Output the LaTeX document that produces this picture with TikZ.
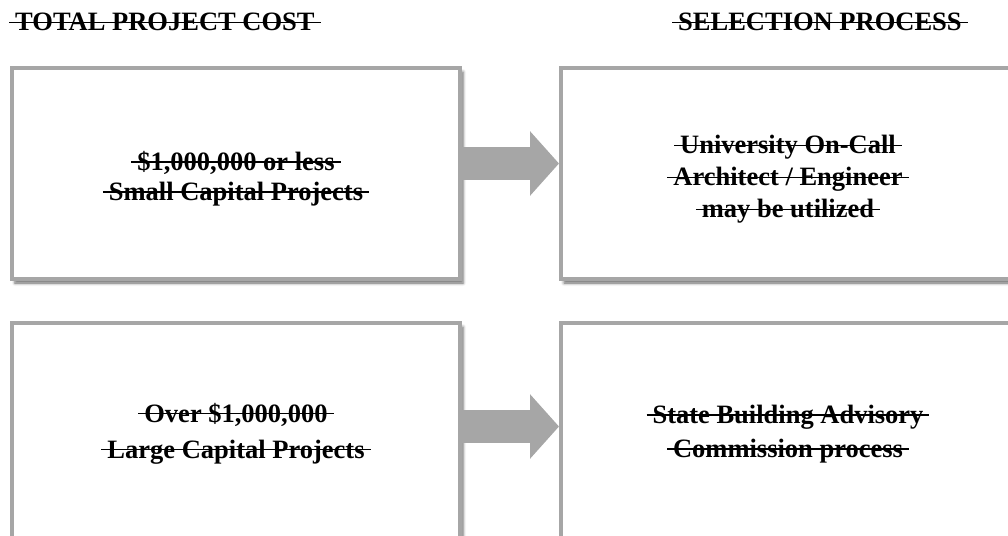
\documentclass[tikz,border=0pt]{standalone}
\usepackage{fontspec}
\setmainfont{Liberation Serif}
\usetikzlibrary{positioning,shadows.blur,arrows.meta}
\definecolor{framegray}{HTML}{A6A6A6}
% struck-through text, the line runs a little past both ends
\newcommand{\strk}[1]{\leavevmode\setbox0=\hbox{#1}\rlap{\kern-6pt\rule[\dimexpr.32em-.75pt\relax]{\dimexpr\wd0+12pt\relax}{1.5pt}}\box0}

\begin{document}
\begin{tikzpicture}[x=1pt,y=-1pt,
    box/.style={rectangle,draw=framegray,line width=4pt,fill=white,
      minimum height=211pt,
      blur shadow={shadow xshift=3pt,shadow yshift=-4pt,shadow blur radius=3pt,shadow opacity=60}},
    boxtext/.style={align=center,font=\bfseries\fontsize{26.5}{30}\selectfont},
    head/.style={inner sep=0pt,anchor=base west,font=\bfseries\fontsize{26.5}{30}\selectfont},
    flow/.style={framegray,line width=33pt,-{Triangle[length=29pt,width=63pt]}}]
      \clip (0,0) rectangle (1008,535);
      % headings
      \node[head] (costhead) at (15,31) {\strk{TOTAL PROJECT COST}};
      \node[head] (selecthead) at (678,31) {\strk{SELECTION PROCESS}};
      % cost boxes
      \node[box,minimum width=448pt,anchor=north west] (small) at (10,66) {};
      \node[box,minimum width=448pt,minimum height=216pt,below=40pt of small] (large) {};
      % selection boxes
      \node[box,minimum width=454pt,right=97pt of small] (oncall) {};
      \node[box,minimum width=454pt,minimum height=216pt,right=97pt of large] (sbac) {};
      % texts
      \node[boxtext] (smalltext) at ([yshift=-5pt]small.center)
        {\strk{\$1,000,000 or less}\\\strk{Small Capital Projects}};
      \node[boxtext] (largetext) at ([yshift=-2.5pt]large.center)
        {\strk{Over \$1,000,000}\\[6pt]\strk{Large Capital Projects}};
      \node[boxtext] (oncalltext) at ([yshift=-6pt]oncall.center)
        {\strk{University On-Call}\\[2pt]\strk{Architect / Engineer}\\[2pt]\strk{may be utilized}};
      \node[boxtext] (sbactext) at ([yshift=-3pt]sbac.center)
        {\strk{State Building Advisory}\\[4pt]\strk{Commission process}};
      % arrows
      \draw[flow] ([yshift=10pt]small.east) -- ([yshift=10pt]oncall.west);
      \draw[flow] ([yshift=4.5pt]large.east) -- ([yshift=4.5pt]sbac.west);
    \end{tikzpicture}
\end{document}
